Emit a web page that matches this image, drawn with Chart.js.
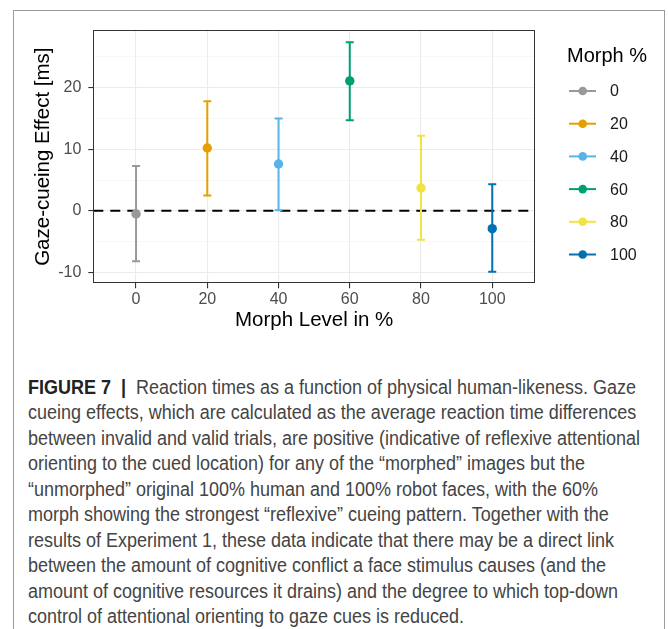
<!DOCTYPE html>
<html>
<head>
<meta charset="utf-8">
<script src="https://cdn.jsdelivr.net/npm/chart.js@4/dist/chart.umd.min.js"></script>
<style>
html,body{margin:0;padding:0;background:#fff;width:668px;height:629px;overflow:hidden;}
#frame{position:absolute;left:13px;top:10px;width:652px;height:660px;border:1px solid #9a9a9a;border-bottom:none;box-sizing:border-box;}
#wrap{position:absolute;left:0;top:0;width:668px;height:345px;}
#caption{position:absolute;left:28px;top:374.5px;font-family:"Liberation Sans",Arial,sans-serif;font-size:19.5px;line-height:25.5px;color:#444;white-space:nowrap;transform-origin:0 0;}
#caption b{color:#222;}
</style>
</head>
<body>
<div id="frame"></div>
<div id="wrap"><canvas id="c" width="668" height="345"></canvas></div>
<div id="caption">
<div class="ln"><b>FIGURE 7</b>&nbsp; <b>|</b>&nbsp; Reaction times as a function of physical human-likeness. Gaze</div>
<div class="ln">cueing effects, which are calculated as the average reaction time differences</div>
<div class="ln">between invalid and valid trials, are positive (indicative of reflexive attentional</div>
<div class="ln">orienting to the cued location) for any of the “morphed” images but the</div>
<div class="ln">“unmorphed” original 100% human and 100% robot faces, with the 60%</div>
<div class="ln">morph showing the strongest “reflexive” cueing pattern. Together with the</div>
<div class="ln">results of Experiment 1, these data indicate that there may be a direct link</div>
<div class="ln">between the amount of cognitive conflict a face stimulus causes (and the</div>
<div class="ln">amount of cognitive resources it drains) and the degree to which top-down</div>
<div class="ln">control of attentional orienting to gaze cues is reduced.</div>
</div>
<script>
// ---- data ----
const morphLevels = [0, 20, 40, 60, 80, 100];
const seriesLabels = ['0', '20', '40', '60', '80', '100'];
const meanEffect = [-0.5, 10.2, 7.6, 21.1, 3.7, -2.9];
const lowerCI = [-8.2, 2.5, 0.1, 14.7, -4.7, -9.9];
const upperCI = [7.3, 17.8, 15.0, 27.4, 12.2, 4.3];
const seriesColors = ['#999999', '#E69F00', '#56B4E9', '#009E73', '#F0E442', '#0072B2'];
const xTickValues = [0, 20, 40, 60, 80, 100];
const yTickValues = [-10, -5, 0, 5, 10, 15, 20, 25];
const yMajorTicks = [-10, 0, 10, 20];
const legendTitle = 'Morph %';

const FONT = '"Liberation Sans", Arial, sans-serif';

const datasets = morphLevels.map((lvl, i) => ({
  label: seriesLabels[i],
  data: [{x: lvl, y: meanEffect[i]}],
  backgroundColor: seriesColors[i],
  borderColor: seriesColors[i],
  borderWidth: 0,
  pointRadius: 4.7,
  pointHoverRadius: 4.7
}));

const errorBarPlugin = {
  id: 'errorBars',
  beforeDatasetsDraw(chart) {
    const {ctx, chartArea: a, scales: {x, y}} = chart;
    ctx.save();
    // reference line at zero
    const y0 = y.getPixelForValue(0);
    ctx.beginPath();
    ctx.setLineDash([10, 7]);
    ctx.lineWidth = 2;
    ctx.strokeStyle = '#000';
    ctx.moveTo(a.left, y0);
    ctx.lineTo(a.right, y0);
    ctx.stroke();
    ctx.setLineDash([]);
    // error bars
    morphLevels.forEach((lvl, i) => {
      const px = x.getPixelForValue(lvl);
      const pl = y.getPixelForValue(lowerCI[i]);
      const pu = y.getPixelForValue(upperCI[i]);
      ctx.strokeStyle = seriesColors[i];
      ctx.lineWidth = 2;
      ctx.beginPath();
      ctx.moveTo(px, pl); ctx.lineTo(px, pu);
      ctx.moveTo(px - 4, pl); ctx.lineTo(px + 4, pl);
      ctx.moveTo(px - 4, pu); ctx.lineTo(px + 4, pu);
      ctx.stroke();
    });
    ctx.restore();
  },
  afterDatasetsDraw(chart) {
    const {ctx, chartArea: a} = chart;
    ctx.save();
    // panel border
    ctx.strokeStyle = '#333';
    ctx.lineWidth = 1;
    ctx.strokeRect(Math.round(a.left) + 0.5, Math.round(a.top) + 0.5,
                   Math.round(a.right - a.left) - 1, Math.round(a.bottom - a.top) - 1);
    // legend
    ctx.fillStyle = '#000';
    ctx.font = '20px ' + FONT;
    ctx.textBaseline = 'alphabetic';
    ctx.textAlign = 'left';
    ctx.fillText(legendTitle, 567, 62);
    chart.data.datasets.forEach((ds, i) => {
      const cy = 91 + i * 32.7;
      ctx.strokeStyle = ds.borderColor;
      ctx.lineWidth = 2;
      ctx.beginPath();
      ctx.moveTo(569, cy); ctx.lineTo(596, cy);
      ctx.stroke();
      ctx.fillStyle = ds.backgroundColor;
      ctx.beginPath();
      ctx.arc(582.7, cy, 4.3, 0, Math.PI * 2);
      ctx.fill();
      ctx.fillStyle = '#1a1a1a';
      ctx.font = '16px ' + FONT;
      ctx.textBaseline = 'middle';
      ctx.fillText(ds.label, 610, cy + 1);
    });
    ctx.restore();
  }
};

new Chart(document.getElementById('c'), {
  type: 'scatter',
  data: {datasets},
  options: {
    responsive: false,
    animation: false,
    devicePixelRatio: 1,
    layout: {padding: {left: 0, top: 30, right: 133, bottom: 0}},
    plugins: {legend: {display: false}, tooltip: {enabled: false}},
    scales: {
      x: {
        type: 'linear',
        min: -12, max: 112,
        afterBuildTicks: s => { s.ticks = xTickValues.map(v => ({value: v})); },
        afterFit: s => { s.height = 61.7; },
        border: {display: false},
        grid: {color: '#ebebeb', lineWidth: 1.1, tickLength: 5, tickColor: '#333', drawTicks: true},
        ticks: {font: {family: FONT, size: 16}, color: '#4d4d4d', padding: 2, maxRotation: 0,
                callback: v => String(v)},
        title: {display: true, text: 'Morph Level in %', color: '#000',
                font: {family: FONT, size: 20.5}, padding: {top: 0, bottom: 12.7}}
      },
      y: {
        type: 'linear',
        min: -11.77, max: 29.37,
        afterBuildTicks: s => { s.ticks = yTickValues.map(v => ({value: v})); },
        afterFit: s => { s.width = 93.3; },
        border: {display: false},
        grid: {
          color: c => yMajorTicks.includes(c.tick.value) ? '#ebebeb' : '#f4f4f4',
          lineWidth: c => yMajorTicks.includes(c.tick.value) ? 1.1 : 0.7,
          tickLength: 5,
          tickColor: c => yMajorTicks.includes(c.tick.value) ? '#333' : 'rgba(0,0,0,0)'
        },
        ticks: {font: {family: FONT, size: 16}, color: '#4d4d4d', padding: 7,
                callback: v => yMajorTicks.includes(v) ? String(v) : ''},
        title: {display: true, text: 'Gaze-cueing Effect [ms]', color: '#000',
                font: {family: FONT, size: 20.5}, padding: {top: 30.7, bottom: 0}}
      }
    }
  },
  plugins: [errorBarPlugin]
});

// fit the caption lines to the reference text width
(function () {
  const cap = document.getElementById('caption');
  let maxW = 0;
  cap.querySelectorAll('.ln').forEach(l => {
    l.style.display = 'inline-block';
    maxW = Math.max(maxW, l.getBoundingClientRect().width);
  });
  cap.querySelectorAll('.ln').forEach(l => { l.style.display = 'block'; });
  cap.style.transform = 'scaleX(' + (612 / maxW) + ')';
})();
</script>
</body>
</html>
